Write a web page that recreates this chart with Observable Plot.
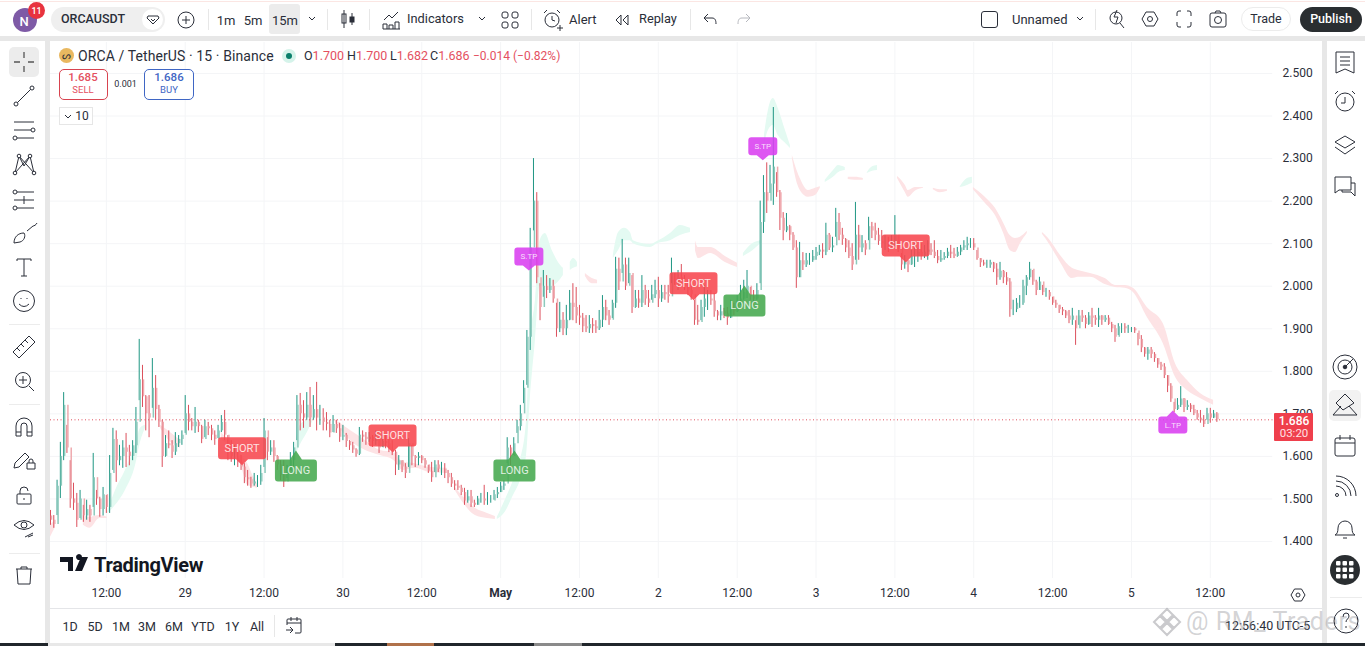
<!DOCTYPE html>
<html><head><meta charset="utf-8">
<script src="https://cdn.jsdelivr.net/npm/d3@7"></script>
<script src="https://cdn.jsdelivr.net/npm/@observablehq/plot@0.6"></script>
<style>
html,body{margin:0;padding:0;background:#fff;overflow:hidden;width:1365px;height:646px}
#stage{position:absolute;left:0;top:0;width:1365px;height:646px;font-family:Roboto,sans-serif;color:#2a2e39}
#stage svg.plot{position:absolute;left:0;top:0}
.p{position:absolute}
.t{position:absolute;white-space:nowrap;line-height:1;transform:translate(-50%,-50%)}
.l{position:absolute;white-space:nowrap;line-height:1;transform:translateY(-50%)}
svg.i{position:absolute;overflow:visible;fill:none;stroke:#2a2e39;stroke-width:1}
</style></head><body><div id="stage"></div>
<script>
// 30-minute candles, one line per calendar day
const highs=[
1.473,1.461,1.544,1.633,1.75,1.673,1.59,1.537,1.513,1.52,1.485,1.497,1.485,1.607,1.52,1.504,1.527,1.508,1.602,1.666,1.66,1.626,1.637,1.654,1.626,1.637,1.715,1.875,1.814,1.743,1.743,1.83,1.79,1.72,1.685,1.649,1.66,1.637,1.656,1.649,1.66,1.743,
1.72,1.689,1.715,1.685,1.673,1.685,1.68,1.673,1.66,1.673,1.696,1.708,1.649,1.637,1.626,1.621,1.602,1.583,1.567,1.551,1.56,1.555,1.579,1.689,1.644,1.637,1.637,1.602,1.59,1.59,1.579,1.609,1.633,1.743,1.748,1.731,1.75,1.762,1.743,1.774,1.72,1.712,1.703,1.685,1.696,1.685,1.678,1.673,
1.654,1.637,1.633,1.618,1.668,1.66,1.656,1.656,1.649,1.66,1.644,1.649,1.649,1.644,1.637,1.614,1.602,1.59,1.583,1.642,1.626,1.602,1.609,1.602,1.595,1.579,1.586,1.59,1.59,1.586,1.583,1.567,1.56,1.543,1.543,1.532,1.525,1.52,1.52,1.497,1.506,1.513,1.532,1.515,1.508,1.52,1.527,1.539,
1.543,1.644,1.626,1.644,1.685,1.72,1.778,1.896,2.136,2.30,2.22,2.006,2.037,2.025,2.018,2.014,1.96,1.962,1.938,1.955,1.99,2.006,1.997,1.955,1.936,1.931,1.931,1.924,1.919,1.943,1.978,1.967,1.943,1.967,2.068,2.066,2.11,2.066,2.066,2.025,1.99,1.99,2.025,2.002,1.99,2.002,2.014,2.021,
2.002,2.002,2.002,2.066,2.03,2.037,2.051,2.025,2.014,2.014,1.967,1.955,1.967,2.002,1.99,1.99,1.983,1.943,1.955,1.948,1.95,1.967,1.96,1.978,2.002,2.014,2.037,1.997,1.99,2.006,2.2,2.26,2.29,2.284,2.42,2.267,2.225,2.173,2.171,2.143,2.126,2.107,2.103,2.079,2.077,2.077,2.084,2.091,
2.096,2.1,2.148,2.124,2.115,2.183,2.171,2.136,2.112,2.107,2.1,2.197,2.143,2.119,2.107,2.162,2.15,2.148,2.136,2.131,2.119,2.115,2.119,2.166,2.119,2.077,2.072,2.061,2.084,2.1,2.089,2.1,2.096,2.107,2.1,2.107,2.084,2.084,2.079,2.089,2.096,2.089,2.091,2.096,2.107,2.115,2.112,2.112,
2.084,2.065,2.061,2.061,2.061,2.056,2.053,2.056,2.037,2.032,2.018,1.967,1.971,1.978,2.014,2.025,2.056,2.037,2.014,2.021,2.002,1.995,1.99,1.974,1.967,1.955,1.95,1.943,1.943,1.948,1.919,1.943,1.943,1.931,1.938,1.948,1.931,1.948,1.931,1.931,1.931,1.915,1.908,1.912,1.912,1.912,1.908,1.903,
1.903,1.889,1.884,1.856,1.856,1.856,1.844,1.83,1.821,1.818,1.79,1.771,1.727,1.736,1.764,1.736,1.731,1.724,1.72,1.708,1.708,1.696,1.713,1.713,1.708,1.703];
const lows=[
1.438,1.431,1.461,1.501,1.59,1.607,1.478,1.473,1.433,1.454,1.445,1.45,1.445,1.48,1.485,1.457,1.46,1.466,1.466,1.567,1.539,1.578,1.572,1.574,1.578,1.59,1.607,1.731,1.715,1.66,1.644,1.713,1.685,1.668,1.574,1.598,1.618,1.595,1.602,1.621,1.626,1.654,
1.66,1.66,1.654,1.656,1.63,1.644,1.649,1.637,1.626,1.642,1.656,1.637,1.59,1.586,1.578,1.574,1.567,1.536,1.53,1.525,1.53,1.527,1.532,1.574,1.59,1.602,1.586,1.567,1.543,1.527,1.548,1.567,1.574,1.637,1.66,1.666,1.685,1.668,1.685,1.66,1.673,1.66,1.66,1.644,1.656,1.654,1.633,1.637,
1.621,1.614,1.607,1.598,1.602,1.633,1.626,1.633,1.621,1.626,1.607,1.621,1.618,1.609,1.602,1.555,1.567,1.562,1.548,1.574,1.578,1.574,1.578,1.583,1.572,1.56,1.539,1.562,1.562,1.555,1.548,1.536,1.527,1.52,1.52,1.508,1.485,1.49,1.48,1.48,1.485,1.49,1.485,1.485,1.49,1.497,1.501,1.515,
1.52,1.583,1.578,1.602,1.654,1.66,1.724,1.767,1.849,2.13,2.006,1.919,1.974,1.971,1.983,1.96,1.88,1.891,1.884,1.884,1.919,1.919,1.912,1.908,1.891,1.891,1.889,1.889,1.889,1.896,1.903,1.919,1.908,1.924,1.948,1.99,2.03,1.99,2.006,1.936,1.948,1.948,1.95,1.955,1.95,1.967,1.971,1.95,
1.962,1.967,1.96,2.006,2.002,1.99,2.002,1.99,1.978,1.967,1.908,1.908,1.919,1.927,1.943,1.955,1.927,1.919,1.919,1.924,1.908,1.924,1.931,1.938,1.955,1.967,1.971,1.967,1.955,1.967,2.006,2.124,2.171,2.218,2.19,2.209,2.131,2.107,2.126,2.107,2.084,1.995,2.02,2.037,2.044,2.049,2.056,2.061,
2.072,2.065,2.072,2.084,2.079,2.115,2.107,2.096,2.079,2.065,2.037,2.061,2.061,2.079,2.072,2.107,2.112,2.107,2.096,2.089,2.084,2.079,2.091,2.091,2.079,2.037,2.04,2.032,2.049,2.044,2.056,2.061,2.065,2.061,2.072,2.065,2.053,2.056,2.061,2.065,2.065,2.065,2.068,2.072,2.084,2.084,2.089,2.084,
2.061,2.044,2.047,2.042,2.042,2.032,2.002,2.014,2.006,2.002,1.927,1.931,1.938,1.948,1.955,1.978,2.014,2.002,1.978,1.99,1.978,1.974,1.967,1.955,1.948,1.936,1.931,1.924,1.912,1.908,1.861,1.908,1.915,1.9,1.908,1.903,1.908,1.903,1.908,1.915,1.908,1.891,1.868,1.884,1.889,1.889,1.889,1.891,
1.889,1.86,1.844,1.833,1.826,1.83,1.821,1.807,1.802,1.783,1.75,1.727,1.703,1.708,1.715,1.703,1.708,1.703,1.696,1.685,1.678,1.668,1.685,1.678,1.689,1.68];
const closes=[
1.45,1.44,1.53,1.6,1.72,1.62,1.5,1.49,1.45,1.5,1.46,1.475,1.46,1.55,1.5,1.475,1.51,1.48,1.56,1.64,1.59,1.6,1.62,1.61,1.6,1.625,1.68,1.78,1.74,1.7,1.69,1.76,1.71,1.68,1.6,1.63,1.625,1.61,1.63,1.64,1.65,1.7,
1.68,1.67,1.68,1.67,1.64,1.67,1.665,1.65,1.64,1.66,1.68,1.65,1.61,1.6,1.6,1.585,1.575,1.55,1.545,1.535,1.54,1.54,1.56,1.66,1.61,1.62,1.6,1.58,1.555,1.54,1.565,1.59,1.62,1.72,1.7,1.69,1.72,1.69,1.71,1.69,1.69,1.68,1.675,1.655,1.675,1.665,1.645,1.65,
1.635,1.625,1.615,1.605,1.65,1.645,1.64,1.645,1.635,1.64,1.62,1.635,1.63,1.615,1.61,1.58,1.59,1.575,1.56,1.63,1.6,1.595,1.6,1.59,1.58,1.565,1.55,1.58,1.57,1.57,1.56,1.55,1.535,1.53,1.525,1.515,1.495,1.505,1.49,1.485,1.5,1.5,1.495,1.495,1.495,1.51,1.515,1.53,
1.535,1.62,1.6,1.63,1.67,1.7,1.76,1.88,2.09,2.2,2.02,1.95,2.0,1.99,2.0,1.97,1.9,1.92,1.9,1.92,1.96,1.95,1.93,1.925,1.905,1.9,1.91,1.905,1.9,1.92,1.95,1.93,1.92,1.96,2.04,2.01,2.05,2.0,2.03,1.95,1.97,1.96,1.99,1.97,1.96,1.98,1.99,1.97,
1.985,1.98,1.975,2.03,2.01,2.02,2.01,2.0,1.99,1.98,1.92,1.915,1.95,1.97,1.97,1.965,1.94,1.93,1.94,1.935,1.925,1.945,1.94,1.96,1.97,1.985,2.0,1.975,1.97,1.99,2.15,2.22,2.2,2.24,2.28,2.22,2.16,2.13,2.14,2.12,2.09,2.02,2.06,2.05,2.06,2.06,2.07,2.08,
2.085,2.08,2.12,2.09,2.095,2.15,2.12,2.11,2.09,2.07,2.05,2.12,2.09,2.1,2.085,2.14,2.13,2.12,2.105,2.1,2.1,2.095,2.105,2.12,2.09,2.05,2.06,2.05,2.07,2.07,2.08,2.07,2.08,2.085,2.08,2.07,2.06,2.065,2.07,2.08,2.075,2.07,2.08,2.09,2.095,2.1,2.1,2.09,
2.065,2.055,2.05,2.05,2.055,2.04,2.02,2.035,2.02,2.01,1.945,1.945,1.96,1.96,2.0,2.02,2.04,2.01,1.99,2.01,1.985,1.985,1.975,1.96,1.955,1.945,1.94,1.93,1.92,1.93,1.9,1.93,1.925,1.91,1.93,1.925,1.92,1.93,1.92,1.925,1.91,1.9,1.88,1.905,1.905,1.9,1.9,1.9,
1.895,1.875,1.855,1.84,1.85,1.84,1.83,1.815,1.81,1.79,1.765,1.735,1.71,1.72,1.735,1.715,1.72,1.71,1.70,1.69,1.685,1.675,1.70,1.69,1.70,1.686];
const firstOpen=1.46;

const priceTicks=[2.5,2.4,2.3,2.2,2.1,2.0,1.9,1.8,1.7,1.6,1.5,1.4];
const timeTicks=["2025-04-28T12:00Z","2025-04-29T00:00Z","2025-04-29T12:00Z","2025-04-30T00:00Z","2025-04-30T12:00Z","2025-05-01T12:00Z","2025-05-02T00:00Z","2025-05-02T12:00Z","2025-05-03T00:00Z","2025-05-03T12:00Z","2025-05-04T00:00Z","2025-05-04T12:00Z","2025-05-05T00:00Z","2025-05-05T12:00Z"];
const timeLabels=["12:00","29","12:00","30","12:00","12:00","2","12:00","3","12:00","4","12:00","5","12:00"];
const monthTick=["2025-05-01T00:00Z"], monthLabel="May";
const lastPrice=1.686;

// indicator cloud pieces: [bar, upper price, lower price]
const pink0=[[0,1.438,1.41],[1.5,1.45,1.433]];
const pink1=[[10,1.461,1.438],[12,1.457,1.431],[15,1.461,1.454],[17.3,1.457,1.454]];
const green1=[[17.3,1.468,1.464],[19.8,1.52,1.485],[22.8,1.567,1.52],[25.9,1.626,1.579],[27.4,1.666,1.633],[28.9,1.673,1.666]];
const pink2=[[33.5,1.673,1.666],[36.5,1.656,1.633],[39.6,1.637,1.619]];
const pink3=[[52,1.656,1.638],[58,1.602,1.579],[60,1.583,1.532],[62,1.548,1.527],[63,1.534,1.525]];
const green2=[[74.6,1.626,1.602],[76,1.673,1.626],[78.2,1.685,1.656],[79.7,1.689,1.68]];
const pink4=[[86.7,1.685,1.68],[91.3,1.661,1.637],[95.9,1.637,1.614],[100.4,1.614,1.602],[104.4,1.609,1.591],[107.4,1.586,1.567],[111,1.583,1.572],[115.6,1.574,1.562],[120.8,1.572,1.56]];
const pink5=[[123.2,1.527,1.52],[125.7,1.504,1.49],[129.3,1.478,1.461],[133,1.466,1.454],[135.4,1.459,1.452]];
const green3=[[136,1.457,1.452],[138.4,1.497,1.469],[140.9,1.543,1.508],[143,1.59,1.543],[144.9,1.685,1.602],[146,1.861,1.731],[147.6,1.967,1.873],[149,2.107,2.0],[150.6,2.124,2.0],[152.7,2.084,2.0],[154.6,2.056,2.01],[156.1,2.042,2.025]];
const green4=[[158.2,2.056,2.037],[159.2,2.065,2.042],[160.4,2.056,2.046]];
const pink6=[[162.8,2.03,2.023],[164.9,2.018,2.006],[166.5,2.014,2.006]];
const green5=[[171.3,2.072,2.065],[172.9,2.126,2.084],[174.7,2.136,2.107],[176.5,2.126,2.107],[177.4,2.107,2.1],[182.6,2.098,2.091],[184.7,2.105,2.1],[188.7,2.124,2.107],[191.7,2.143,2.119],[194.8,2.136,2.126]];
const pink7=[[196.3,2.107,2.084],[197.2,2.091,2.065],[200.9,2.091,2.077],[205.4,2.07,2.056],[209.1,2.054,2.044]];
const green6=[[210.9,2.077,2.07],[213,2.096,2.079],[216.1,2.107,2.1]];
const green7=[[217.3,2.354,2.331],[218.5,2.413,2.366],[220,2.441,2.378],[221.5,2.418,2.354],[223.7,2.366,2.336],[225.2,2.331,2.324]];
const pink8=[[225.8,2.307,2.3],[226.7,2.284,2.26],[228.2,2.253,2.225],[230.7,2.225,2.209],[232.8,2.23,2.213],[234.3,2.234,2.23]];
const green8=[[235.8,2.249,2.244],[238.3,2.272,2.256],[239.8,2.284,2.267],[241.9,2.279,2.272]];
const pink9=[[242.8,2.256,2.251],[245,2.256,2.249],[247.4,2.253,2.249]];
const green9=[[248.6,2.267,2.265],[250.2,2.281,2.27],[251.7,2.284,2.272]];
const pink10=[[257.8,2.258,2.253],[260.2,2.237,2.22],[261.1,2.225,2.209],[263.2,2.232,2.223],[265.7,2.232,2.23]];
const pink11=[[268.7,2.23,2.227],[270.8,2.227,2.22],[273,2.227,2.223]];
const green10=[[276.9,2.234,2.232],[279.1,2.253,2.237],[280.6,2.256,2.242]];
const pink12=[[280.9,2.232,2.227],[284.5,2.209,2.195],[287.6,2.183,2.166],[290,2.15,2.126],[292.1,2.119,2.084],[293.7,2.112,2.079],[295.2,2.115,2.1],[297.3,2.129,2.124]];
const pink13=[[301.9,2.126,2.122],[304.3,2.107,2.096],[307.4,2.072,2.056],[311,2.042,2.018],[312.8,2.037,2.021],[316.5,2.03,2.021],[321,2.018,2.004],[324.1,2.002,1.997],[327.1,2.002,1.995],[329.6,1.995,1.985],[333.8,1.95,1.927],[338.7,1.912,1.865],[342.4,1.818,1.786],[346,1.779,1.755],[350,1.748,1.736],[354,1.732,1.72]];
const pinkBands=[pink0,pink1,pink2,pink3,pink4,pink5,pink6,pink7,pink8,pink9,pink10,pink11,pink12,pink13];
const greenBands=[green1,green2,green3,green4,green5,green6,green7,green8,green9,green10];

// signal flags: text, bar, price at the tip of the flag
const shortText=["SHORT","SHORT","SHORT","SHORT"], shortBars=[58.3,104.1,195.7,260.3], shortTips=[1.579,1.609,1.967,2.056];
const longText=["LONG","LONG","LONG"], longBars=[74.7,141.2,211.2], longTips=[1.614,1.614,2.002];
const sTpText=["S.TP","S.TP"], sTpBars=[145.6,216.8], sTpTips=[2.037,2.296];
const lTpText=["L.TP"], lTpBars=[341.6], lTpTips=[1.708];

const t0=Date.UTC(2025,3,28,3,30), HALF=30*60000;
const barDate=b=>new Date(t0+b*HALF);
const candles=closes.map((c,i)=>({date:barDate(i),high:highs[i],low:lows[i],close:c,open:i?closes[i-1]:firstOpen}));
const up="#1f9683", down="#dc505d", upBody="#8ccabc", downBody="#efa9ae";
const bandRows=(bands)=>bands.flatMap((b,k)=>b.map(([bar,top,bot])=>({k,date:barDate(bar),top,bot})));

// flag outlines (pixel shapes anchored on the tip, drawn by the dot mark)
function flag(w,h,gap,dir){return {draw(c){const s=dir,a=s*gap,b=s*(gap+h),r=3,x=w/2;
 c.moveTo(0,0);c.lineTo(6,a);c.lineTo(x-r,a);c.quadraticCurveTo(x,a,x,a+s*r);c.lineTo(x,b-s*r);c.quadraticCurveTo(x,b,x-r,b);
 c.lineTo(-x+r,b);c.quadraticCurveTo(-x,b,-x,b-s*r);c.lineTo(-x,a+s*r);c.quadraticCurveTo(-x,a,-x+r,a);c.lineTo(-6,a);c.closePath();}};}
function flags(text,bars,tips,sym,color,dy,size){
 const rows=text.map((t,i)=>({t,date:barDate(bars[i]),p:tips[i]}));
 return [Plot.dot(rows,{x:"date",y:"p",symbol:sym,r:5,fill:color,stroke:null,fillOpacity:0.88}),
  Plot.text(rows,{x:"date",y:"p",text:"t",dy,fill:"#fff",fillOpacity:0.82,fontSize:size,fontWeight:400})];
}
const tickMap=new Map(timeTicks.map((d,i)=>[+new Date(d),timeLabels[i]]));
const gridEnd=barDate(372), topP=2.573, botP=1.313;

const chart=Plot.plot({
 width:1365,height:646,marginLeft:50,marginRight:89.5,marginTop:73,marginBottom:105,
 style:{background:"transparent",fontFamily:"Roboto,sans-serif",fontSize:"12px",color:"#2a2e39"},
 x:{type:"utc",domain:[new Date(t0),barDate(373)]},
 y:{domain:[1.4,2.5]},
 marks:[
  Plot.ruleY(priceTicks,{x1:barDate(0),x2:gridEnd,stroke:"#f4f5f7"}),
  Plot.ruleX([...timeTicks,...monthTick].map(d=>new Date(d)),{y1:topP,y2:botP,stroke:"#f4f5f7"}),
  Plot.areaY(bandRows(pinkBands),{x:"date",y1:"top",y2:"bot",z:"k",fill:"#fde3e5",curve:"monotone-x"}),
  Plot.areaY(bandRows(greenBands),{x:"date",y1:"top",y2:"bot",z:"k",fill:"#e4faf2",curve:"monotone-x"}),
  Plot.ruleY([lastPrice],{x1:barDate(0),x2:barDate(373),stroke:"#e0505e",strokeDasharray:"1 2.5"}),
  Plot.ruleX(candles,{x:"date",y1:"low",y2:"high",stroke:d=>d.close>=d.open?up:down,strokeWidth:1}),
  Plot.ruleX(candles,{x:"date",y1:"open",y2:"close",dx:1,stroke:d=>d.close>=d.open?upBody:downBody,strokeWidth:1.5}),
  ...flags(shortText,shortBars,shortTips,flag(48,22,6,-1),"#f7474f",-17,11),
  ...flags(longText,longBars,longTips,flag(42,22,9,1),"#45a84e",20,11),
  ...flags(sTpText,sTpBars,sTpTips,flag(29,18,5,-1),"#d93ff0",-14,8),
  ...flags(lTpText,lTpBars,lTpTips,flag(29,17,6,1),"#d93ff0",14.5,8),
  Plot.axisY({anchor:"right",ticks:priceTicks,tickSize:0,tickPadding:6.5,tickFormat:d3.format(".3f"),label:null,fontSize:12,fill:"#2a2e39"}),
  Plot.axisX({anchor:"bottom",ticks:timeTicks.map(d=>new Date(d)),tickSize:0,tickPadding:47,tickFormat:d=>tickMap.get(+d),label:null,fontSize:12,fill:"#2a2e39"}),
  Plot.axisX({anchor:"bottom",ticks:monthTick.map(d=>new Date(d)),tickSize:0,tickPadding:47,tickFormat:()=>monthLabel,label:null,fontSize:12,fontWeight:"bold",fill:"#2a2e39"})
 ]});
const stage=document.getElementById("stage");
stage.appendChild(chart);

// ---- surrounding application chrome ----
let h="";
const box=(x,y,w,ht,st)=>{h+=`<div class="p" style="left:${x}px;top:${y}px;width:${w}px;height:${ht}px;${st}"></div>`;};
const T=(x,y,s,st="")=>{h+=`<div class="t" style="left:${x}px;top:${y}px;font-size:13px;${st}">${s}</div>`;};
const L=(x,y,s,st="")=>{h+=`<div class="l" style="left:${x}px;top:${y}px;font-size:13px;${st}">${s}</div>`;};
const I=(x,y,inner,st="")=>{h+=`<svg class="i" style="left:${x-12}px;top:${y-12}px;${st}" width="24" height="24" viewBox="-12 -12 24 24">${inner}</svg>`;};
const G="#e7e7e7";
box(0,0,1365,36,"background:#fff");box(0,1,1365,1,"background:#fbe6e3");
box(0,36,1365,5,`background:${G}`);
box(0,41,45,602,"background:#fff");box(45,41,5,602,`background:${G}`);
box(1322,41,5,602,`background:${G}`);box(1327,41,38,602,"background:#fff");
box(50,608,1272,1,"background:#e4e5e8");box(50,609,1272,34,"background:#fff");
box(0,643,1365,3,"background:#20262b");box(48,643,287,3,"background:#e8e8e8");box(387,643,47,3,"background:#b0714a");box(534,643,48,3,"background:#8a8a8a");
// top bar
box(13,8,24,24,"background:#7e5aa6;border-radius:50%");T(24,21,"N","color:#fff;font-size:13px;font-weight:500");
box(28,2,17,17,"background:#e8333f;border-radius:50%");T(36.5,10.5,"11","color:#fff;font-size:9px;font-weight:500");
box(51,7,114,25,"background:#efefef;border-radius:13px");T(93,19,"ORCAUSDT","font-weight:500;font-size:12.5px");
box(142,9,21,21,"background:#fff;border-radius:50%");
I(153,19,'<path d="M-5-3h10l1 2-6 6-6-6zM-2 0l2 2 2-2"/>');
I(186,20,'<circle r="8"/><path d="M-4 0h8M0-4v8"/>');
box(208,9,1,21,"background:#e7e7e7");
T(226,19.5,"1m");T(253,19.5,"5m");box(269,4,31,30,"background:#ececec;border-radius:3px");T(285,19.5,"15m");
I(312,18,'<path d="M-3-1l3 3 3-3"/>');
box(327,9,1,21,"background:#e7e7e7");
I(348,19,'<path d="M-4-9v18M4-6v12"/><rect x="-6" y="-5" width="4" height="9"/><rect x="2" y="-2" width="4" height="5" fill="#2a2e39"/>');
box(369,9,1,21,"background:#e7e7e7");
I(392,20,'<path d="M-8 0l5-5 3 3 6-6M-9 9v-5h4v5M-3 9v-4h4v4M3 9v-7h4v7M-9 9h17"/>');
L(407,19,"Indicators","font-size:12.8px");I(482,18,'<path d="M-3-1l3 3 3-3"/>');
I(510,20,'<rect x="-8" y="-8" width="6" height="6" rx="2"/><rect x="2" y="-8" width="6" height="6" rx="2"/><rect x="-8" y="2" width="6" height="6" rx="2"/><rect x="2" y="2" width="6" height="6" rx="2"/>');
box(531,9,1,21,"background:#e7e7e7");
I(552,20,'<circle r="7"/><path d="M0-4v4l3 1M-8-7l3-3M8-7l-3-3M5 8h6M8 5v6"/>');
L(569,19,"Alert");
I(622,20,'<path d="M-1-5l-5 5 5 5zM6-5l-5 5 5 5z"/>');
L(639,19,"Replay","font-size:12.8px");
box(690,9,1,21,"background:#e7e7e7");
I(710,19,'<path d="M-6-1l4-4M-6-1l4 4M-6-1h8c3 0 4 2 4 6"/>');
I(744,19,'<path d="M6-1l-4-4M6-1l-4 4M6-1h-8c-3 0-4 2-4 6"/>','stroke:#b6b8be');
box(981,11,17,17,"border:1.2px solid #2a2e39;border-radius:3px;box-sizing:border-box");
L(1012,19,"Unnamed");I(1080,18,'<path d="M-3-1l3 3 3-3"/>');
box(1095,9,1,21,"background:#e7e7e7");
I(1117,19,'<circle cx="-1" cy="-1" r="6"/><path d="M3 4l4 5M0-9l-3 7h4l-2 6"/>');
I(1150,19,'<path d="M-8 0l4-7h8l4 7-4 7h-8z"/><circle r="2.5"/>');
I(1184,19,'<path d="M-7-3v-3q0-2 2-2h2M3-8h2q2 0 2 2v3M7 3v3q0 2-2 2H3M-3 8h-2q-2 0-2-2V3"/>');
I(1218,19,'<rect x="-8" y="-6" width="16" height="14" rx="2"/><path d="M-3-6l1-2h4l1 2"/><circle cy="1" r="3.5"/>');
box(1241,7,50,24,"border:1px solid #ececec;border-radius:12px;box-sizing:border-box");T(1266,18.5,"Trade","font-size:12.5px");
box(1300,7,62,25,"background:#2a2e31;border-radius:13px");T(1331,18.5,"Publish","color:#fff;font-weight:500;font-size:12.5px");
// legend
box(59,48,15,15,"background:#e9b860;border-radius:50%");T(66.5,55.5,"ᔕ","font-size:10px");
L(78,55.5,"ORCA / TetherUS · 15 · Binance","font-size:14px;letter-spacing:.1px");
box(282,49,14,14,"background:#d5f3ea;border-radius:50%");box(286,53,6,6,"background:#0a7f6b;border-radius:50%");
const R="color:#e4505f";
L(304,55.5,`O<span style="${R}">1.700</span>`,"font-size:12.5px");L(347,55.5,`H<span style="${R}">1.700</span>`,"font-size:12.5px");
L(390,55.5,`L<span style="${R}">1.682</span>`,"font-size:12.5px");L(430,55.5,`C<span style="${R}">1.686</span>`,"font-size:12.5px");
L(473,55.5,"−0.014 (−0.82%)",R+";font-size:12px");
box(59,69,49,31,"border:1px solid #d8434f;border-radius:5px;box-sizing:border-box;background:#fff");
T(83,78,"1.685",R+";font-size:11.5px;font-weight:500");T(83,90,"SELL",R+";font-size:9.5px");
T(125.5,84,"0.001","font-size:9px");
box(144,69,50,31,"border:1px solid #3f66c4;border-radius:5px;box-sizing:border-box;background:#fff");
T(169,78,"1.686","color:#3f66c4;font-size:11.5px;font-weight:500");T(169,90,"BUY","color:#3f66c4;font-size:9.5px");
box(59,107,34,18,"border:1px solid #e6e6e6;box-sizing:border-box;background:#fff");
I(68,116,'<path d="M-3-1l3 3 3-3"/>');T(82,115.5,"10","font-size:12px");
// last price tag
box(1274,413,39,28,"background:#ef3f4c;border-radius:1px");
T(1294,421,"1.686","color:#fff;font-size:12px;font-weight:500");T(1294,433.5,"03:20","color:#ffe1e3;font-size:11.5px");
// logo
I(74,564,'<path d="M-14-7H-1V7H-6V-2H-14zM2-7h0a3 3 0 1 1 0 .1zM7-7h7L8 7H1z" fill="#131722" stroke="none"/>');
L(94,564.5,"TradingView","font-size:20px;font-weight:700;color:#131722;letter-spacing:-.3px");
// bottom bar
[["1D",70],["5D",95],["1M",121],["3M",147],["6M",174],["YTD",203],["1Y",232],["All",257]].forEach(([s,x])=>T(x,627,s,"font-size:12.5px"));
box(274,615,1,22,"background:#e7e7e7");
I(294,626,'<path d="M-7-1v-5q0-1 1-1H6q1 0 1 1V6q0 1-1 1H1M-7-3H7M-3-9v4M3-9v4M-8 4h6M-4 1l3 3-3 3"/>');
I(1298,595,'<path d="M-7 0l3.500-6h7l3.500 6-3.500 6h-7z"/><circle r="2"/>');
L(1225,626,"12:56:40 UTC-5","font-size:12.5px");
h+=`<div class="l" style="left:1186px;top:621px;font-size:25px;color:rgba(150,150,155,.42);letter-spacing:.6px">@ RM_ Traders</div>`;
I(1167,622,'<path d="M0-13L6-7 0-1-6-7zM-7-6L-1 0-7 6-13 0zM7-6L13 0 7 6 1 0zM0 1L6 7 0 13-6 7z" stroke="rgba(150,150,155,.5)" stroke-width="2"/>');
I(1346,621,'<circle r="12"/><path d="M-3-4q0-4 3-4t3 3c0 3-3 3-3 6M0 5v2"/>');
// left tools
box(9,47,30,30,"background:#ececec;border-radius:5px");
const lx=24;
I(lx,62,'<path d="M0-10v6M0 4v6M-10 0h6M4 0h6" stroke-width="1.3" stroke="#555"/>');
I(lx,96,'<path d="M-7 7L7-7"/><circle cx="-8" cy="8" r="2" fill="#fff"/><circle cx="8" cy="-8" r="2" fill="#fff"/>');
I(lx,130,'<path d="M-10-8H10M-10 0H7M-7 8H10"/><circle cx="9" cy="0" r="2" fill="#fff"/><circle cx="-9" cy="8" r="2" fill="#fff"/>');
I(lx,164,'<path d="M-9 9L-5-8 0 2 6-8 10 9M-9 9L6-8M-5-8L10 9"/><circle cx="-9" cy="9" r="1.800" fill="#fff"/><circle cx="-5" cy="-8" r="1.800" fill="#fff"/><circle cx="6" cy="-8" r="1.800" fill="#fff"/><circle cx="10" cy="9" r="1.800" fill="#fff"/>');
I(lx,200,'<path d="M-7-8H10M-10 0H10M-7 8H10M0-4V4"/><circle cx="-9" cy="-8" r="2" fill="#fff"/><circle cx="-9" cy="8" r="2" fill="#fff"/>');
I(lx,235,'<path d="M-10 8c0-6 4-10 10-10 2 3 0 8-4 9zM3-4L9-9c1 0 3-1 4-3"/>');
I(lx,267,'<path d="M-7-6v-2H7v2M0-8V9M-3 9h6"/>');
I(lx,301,'<circle r="10.500"/><path d="M-5 3q5 5 10 0M-3-3v1M3-3v1"/>');
box(9,324,31,1,"background:#ececec");
I(lx,347,'<path d="M-11 5L5-11 11-5-5 11zM-7 1l3 3M-3-3l3 3M1-7l3 3"/>');
I(lx,381,'<circle cx="-1" cy="-1" r="7.500"/><path d="M5 5l5 5M-5-1h8M-1-5v8"/>');
box(9,404,31,1,"background:#ececec");
I(lx,427,'<path d="M-8 9V-1a8 8 0 0 1 16 0V9H3V-1a3 3 0 0 0-6 0V9zM-8 5h5M3 5h5"/>');
I(lx,460,'<path d="M-10 8l1-5L1-7l4 4L-5 7zM3 3h8v6H3zM5 3V1a2 2 0 0 1 4 0v2"/>');
I(lx,496,'<rect x="-7" y="-2" width="14" height="10" rx="1"/><path d="M-4-2v-3a4 4 0 0 1 8 0"/><path d="M0 2v2"/>');
I(lx,528,'<path d="M-10-3q10-9 20 0q-10 9-20 0z"/><circle cy="-3" r="3"/><path d="M1 9L9 5M4 9l5-2"/>');
box(9,553,31,1,"background:#ececec");
I(lx,575,'<path d="M-7-6l1 15H6L7-6M-8-6H8M-3-6v-2H3v2"/>');
// right tools
const rx=1345;
I(rx,62,'<path d="M-9-10H9V11L0 7-9 11zM-5-5H5M-5-1H5M-5 3H5"/>');
I(rx,102,'<circle r="9"/><path d="M0-5V1H-4M-10-8l3-3M10-8l-3-3"/>');
I(rx,144,'<path d="M-10-2L0-8 10-2 0 4zM-10 3L0 10 10 3"/>');
I(rx,186,'<path d="M-10-9H6V4H-6L-10 7zM6-3H10V10L6 6H-3V4"/>');
I(rx,367,'<circle r="12"/><circle r="7"/><circle r="1.800" fill="#2a2e39"/><path d="M0 0L8-8"/>');
box(1329,390,32,31,"background:#f2f2f2;border-radius:5px");
I(rx,405,'<path d="M0-11L9-2-2 5-9-2zM-12 10L-4 1M12 10L4 1M-12 10H12"/>');
I(rx,445,'<rect x="-10" y="-7" width="20" height="18" rx="2"/><path d="M-10-2H10M-5-10v5M5-10v5"/>');
I(rx,487,'<path d="M-9-1a10 10 0 0 1 10 10M-9-6a15 15 0 0 1 15 15M-9-11a20 20 0 0 1 20 20"/><circle cx="-8" cy="8" r="1.500"/>');
I(rx,528,'<path d="M-10 7q3-1 3-7a7 7 0 0 1 14 0q0 6 3 7zM-2 10h4"/>');
box(1330,555,30,30,"background:#2a2e31;border-radius:50%");
h+=`<svg class="i" style="left:1336px;top:561px;stroke:none;fill:#fff" width="18" height="18" viewBox="0 0 18 18">${[0,6.500,13].flatMap(a=>[0,6.500,13].map(b=>`<rect x="${a}" y="${b}" width="4.500" height="4.500" rx="1"/>`)).join("")}</svg>`;
box(1330,597,32,1,"background:#ececec");
const over=document.createElement("div");over.innerHTML=h;stage.appendChild(over);
</script></body></html>
